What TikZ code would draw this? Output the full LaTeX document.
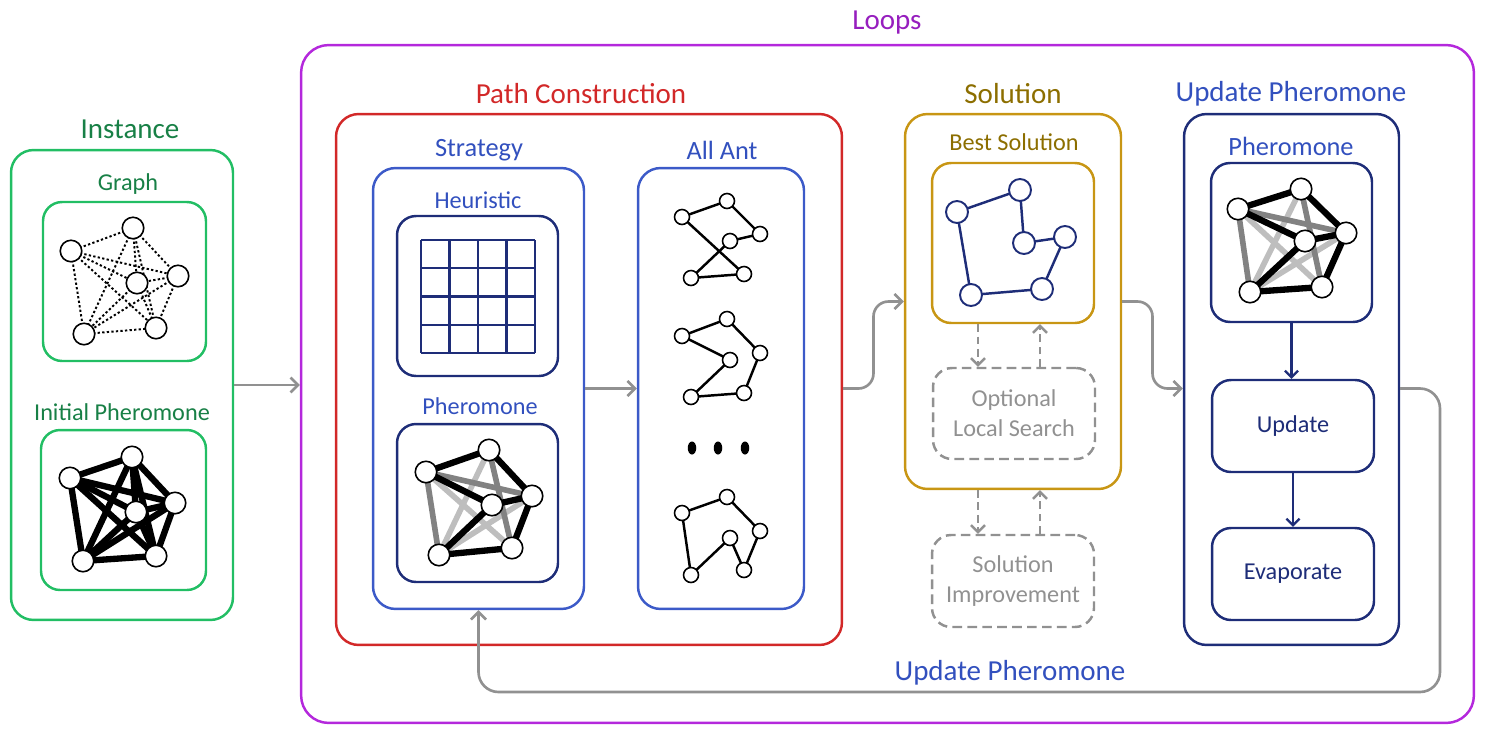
\documentclass[tikz,border=0pt]{standalone}
\usepackage{fontspec}
\setmainfont{Carlito}
\usetikzlibrary{arrows.meta,calc,backgrounds}
\definecolor{igreen}{RGB}{34,190,100}
\definecolor{igreent}{RGB}{24,128,70}
\definecolor{lpurple}{RGB}{180,40,220}
\definecolor{lpurplet}{RGB}{150,30,190}
\definecolor{pcred}{RGB}{210,40,40}
\definecolor{mblue}{RGB}{60,90,200}
\definecolor{mbluet}{RGB}{50,80,190}
\definecolor{navy}{RGB}{30,45,120}
\definecolor{sgold}{RGB}{200,150,20}
\definecolor{sgoldt}{RGB}{140,110,0}
\definecolor{agrey}{RGB}{145,145,145}
\definecolor{midgrey}{RGB}{130,130,130}
\definecolor{lightgrey}{RGB}{190,190,190}
\newcommand\mkverts[8]{%
  \node[#2] (#1a) at #3 {}; \node[#2] (#1b) at #4 {}; \node[#2] (#1c) at #5 {};
  \node[#2] (#1d) at #6 {}; \node[#2] (#1e) at #7 {}; \node[#2] (#1f) at #8 {};}
\newcommand\kedges[2]{%
  \foreach \u/\v in {a/b,a/c,a/d,a/e,a/f,b/c,b/d,b/e,b/f,c/d,c/e,c/f,d/e,d/f,e/f}
    {\draw[#2] (#1\u.center) -- (#1\v.center);}}
\newcommand\pheroedges[1]{%
  \foreach \u/\v in {a/e,e/c,b/f} {\draw[line width=3.2pt,lightgrey] (#1\u.center) -- (#1\v.center);}
  \foreach \u/\v in {b/e,b/c,a/f} {\draw[line width=3.2pt,midgrey] (#1\u.center) -- (#1\v.center);}
  \foreach \u/\v in {a/b,a/c,b/d,d/c,d/e,e/f,c/f} {\draw[line width=3.6pt,black] (#1\u.center) -- (#1\v.center);}}
\newcommand\cycedges[3]{%
  \foreach \u/\v in {#2} {\draw[#3] (#1\u.center) -- (#1\v.center);}}
\begin{document}
\begin{tikzpicture}[x=0.02cm,y=-0.02cm,
  box/.style={draw, rounded corners=0.45cm, line width=1.4pt, inner sep=0pt},
  ibox/.style={draw, rounded corners=0.38cm, line width=1.4pt, inner sep=0pt},
  dbox/.style={draw=agrey, rounded corners=0.38cm, line width=1.4pt, inner sep=0pt, dash pattern=on 5.5pt off 3pt, text=agrey, align=center, font=\fontsize{13.8}{17}\selectfont},
  tbig/.style={inner sep=0pt, font=\fontsize{16.5}{19}\selectfont},
  tmid/.style={inner sep=0pt, font=\fontsize{15}{18}\selectfont},
  tsm/.style={inner sep=0pt, font=\fontsize{13.8}{17}\selectfont},
  vx/.style={circle, draw=black, fill=white, line width=0.9pt, minimum size=0.43cm, inner sep=0pt},
  svx/.style={circle, draw=black, fill=white, line width=0.9pt, minimum size=0.3cm, inner sep=0pt},
  bvx/.style={circle, draw=navy, fill=white, line width=1.1pt, minimum size=0.44cm, inner sep=0pt},
  garrow/.style={draw=agrey, line width=1.5pt, -{Straight Barb[length=1.5mm,width=3mm]}, rounded corners=0.3cm},
  darrow/.style={draw=agrey, line width=1.4pt, dash pattern=on 4.5pt off 2.5pt, -{Straight Barb[length=1.4mm,width=2.8mm]}},
  narrow/.style={draw=navy, line width=1.3pt, -{Straight Barb[length=1.3mm,width=2.6mm]}},
]
\useasboundingbox (0,0) rectangle (1491,737);

% ---------- Instance ----------
\node[box, draw=igreen, minimum width=4.44cm, minimum height=9.4cm] (inst) at (122,385) {};
\node[tbig, text=igreent] (instT) at (130,129) {Instance};
\node[ibox, draw=igreen, minimum width=3.26cm, minimum height=3.18cm] (graph) at (124.5,281.5) {};
\node[tsm, text=igreent] (graphT) at (128,184) {Graph};
\node[ibox, draw=igreen, minimum width=3.30cm, minimum height=3.20cm] (initph) at (123.5,510) {};
\node[tsm, text=igreent] (initphT) at (122,412) {Initial Pheromone};
\mkverts{gv}{vx}{(133,228)}{(71,251)}{(178,276)}{(137,283)}{(84,334)}{(156,328)}
\begin{scope}[on background layer]
\kedges{gv}{line width=1.1pt, dash pattern=on 1.3pt off 1.3pt}
\end{scope}
\mkverts{iv}{vx}{(132,457)}{(70,478)}{(175,503)}{(136,512)}{(83,561)}{(156,556)}
\begin{scope}[on background layer]
\kedges{iv}{line width=3.6pt}
\end{scope}

% ---------- Loops ----------
\node[box, draw=lpurple, rounded corners=0.55cm, minimum width=23.46cm, minimum height=13.56cm] (loops) at (887.5,384) {};
\node[tbig, text=lpurplet] (loopsT) at (887,23) {Loops};

% ---------- Path Construction ----------
\node[box, draw=pcred, minimum width=10.12cm, minimum height=10.62cm] (pcons) at (589,379.5) {};
\node[tbig, text=pcred] (pconsT) at (581,94) {Path Construction};
\node[box, draw=mblue, minimum width=4.22cm, minimum height=8.82cm] (strat) at (478.5,388.5) {};
\node[tmid, text=mbluet] (stratT) at (479,150) {Strategy};
\node[ibox, draw=navy, minimum width=3.22cm, minimum height=3.20cm] (heur) at (477.5,296) {};
\node[tsm, text=mbluet] (heurT) at (478,200) {Heuristic};
\foreach \k in {0,...,4} {
  \draw[navy, line width=1.3pt] (421+28.5*\k,240) -- (421+28.5*\k,353);
  \draw[navy, line width=1.3pt] (421,240+28.25*\k) -- (535,240+28.25*\k);
}
\node[ibox, draw=navy, minimum width=3.22cm, minimum height=3.16cm] (phero) at (477.5,503) {};
\node[tsm, text=mbluet] (pheroT) at (480,406) {Pheromone};
\mkverts{pv}{vx}{(489,450)}{(426,472)}{(532,496)}{(492,505)}{(439,555)}{(512,548)}
\begin{scope}[on background layer]
\pheroedges{pv}
\end{scope}

\node[box, draw=mblue, minimum width=3.32cm, minimum height=8.82cm] (allant) at (721,388.5) {};
\node[tmid, text=mbluet] (allantT) at (722,150) {All Ant};
\mkverts{sv}{svx}{(682,217)}{(727,201)}{(760,234)}{(730,241)}{(691,278)}{(744,274)}
\mkverts{tv}{svx}{(682,336)}{(727,319)}{(760,353)}{(730,360)}{(691,397)}{(744,393)}
\mkverts{uv}{svx}{(682,513)}{(727,497)}{(760,531)}{(730,538)}{(691,575)}{(744,570)}
\begin{scope}[on background layer]
\cycedges{sv}{a/b,b/c,c/d,d/e,e/f,f/a}{line width=1.4pt}
\cycedges{tv}{a/b,b/c,c/f,f/e,e/d,d/a}{line width=1.4pt}
\cycedges{uv}{a/b,b/c,c/f,f/d,d/e,e/a}{line width=1.4pt}
\end{scope}
\foreach \xx in {692,718,745} \fill (\xx,448) ellipse [x radius=0.085cm, y radius=0.13cm];

% ---------- Solution ----------
\node[box, draw=sgold, minimum width=4.32cm, minimum height=7.50cm] (sol) at (1013,301.5) {};
\node[tbig, text=sgoldt] (solT) at (1013,94) {Solution};
\node[ibox, draw=sgold, minimum width=3.24cm, minimum height=3.20cm] (best) at (1013,243) {};
\node[tsm, text=sgoldt] (bestT) at (1014,142) {Best Solution};
\mkverts{bv}{bvx}{(957,212)}{(1020,190)}{(1024,243)}{(1065,237)}{(1042,289)}{(971,295)}
\begin{scope}[on background layer]
\cycedges{bv}{a/b,b/c,c/d,d/e,e/f,f/a}{line width=1.4pt, navy}
\end{scope}
\node[dbox, minimum width=3.24cm, minimum height=1.82cm] (ols) at (1014,413.5) {Optional\\Local Search};
\node[dbox, minimum width=3.24cm, minimum height=1.84cm] (simp) at (1013,581) {Solution\\Improvement};
\draw[darrow] ([xshift=-0.7cm]best.south) -- ([xshift=-0.7cm]best.south |- ols.north);
\draw[darrow] ([xshift=0.54cm]best.south |- ols.north) -- ([xshift=0.54cm]best.south);
\draw[darrow] ([xshift=-0.7cm]sol.south) -- ([xshift=-0.7cm]sol.south |- simp.north);
\draw[darrow] ([xshift=0.54cm]sol.south |- simp.north) -- ([xshift=0.54cm]sol.south);

% ---------- Update Pheromone ----------
\node[box, draw=navy, minimum width=4.30cm, minimum height=10.62cm] (upd) at (1291.5,379.5) {};
\node[tbig, text=mbluet] (updT) at (1291,94) {Update Pheromone};
\node[ibox, draw=navy, minimum width=3.22cm, minimum height=3.18cm] (uph) at (1291.5,242.5) {};
\node[tmid, text=mbluet] (uphT) at (1291,146) {Pheromone};
\mkverts{qv}{vx}{(1301,189)}{(1238,209)}{(1346,233)}{(1305,241)}{(1250,292)}{(1322,287)}
\begin{scope}[on background layer]
\pheroedges{qv}
\end{scope}
\node[ibox, draw=navy, minimum width=3.24cm, minimum height=1.84cm, text=navy, font=\fontsize{13.8}{17}\selectfont] (update) at (1293,426) {Update};
\node[ibox, draw=navy, minimum width=3.24cm, minimum height=1.84cm, text=navy, font=\fontsize{13.8}{17}\selectfont] (evap) at (1293,574) {Evaporate};
\draw[narrow] (uph.south) -- (uph.south |- update.north);
\draw[narrow] (update.south) -- (update.south |- evap.north);

% ---------- Connectors ----------
\draw[garrow] (inst.east) -- (inst.east -| loops.west);
\draw[garrow] (strat.east) -- (allant.west);
\draw[garrow] (pcons.east |- allant.east) -| ($(pcons.east)!0.5!(sol.west)$) |- (sol.west);
\draw[garrow] (sol.east) -| ($(sol.east)!0.5!(upd.west)$) |- (upd.west |- strat.east);
\coordinate (fb) at (1440,692);
\draw[garrow, rounded corners=0.4cm] (upd.east |- strat.east) -| (fb) -| (strat.south);
\node[tbig, text=mbluet] (fbT) at (1010,673) {Update Pheromone};
\end{tikzpicture}
\end{document}
